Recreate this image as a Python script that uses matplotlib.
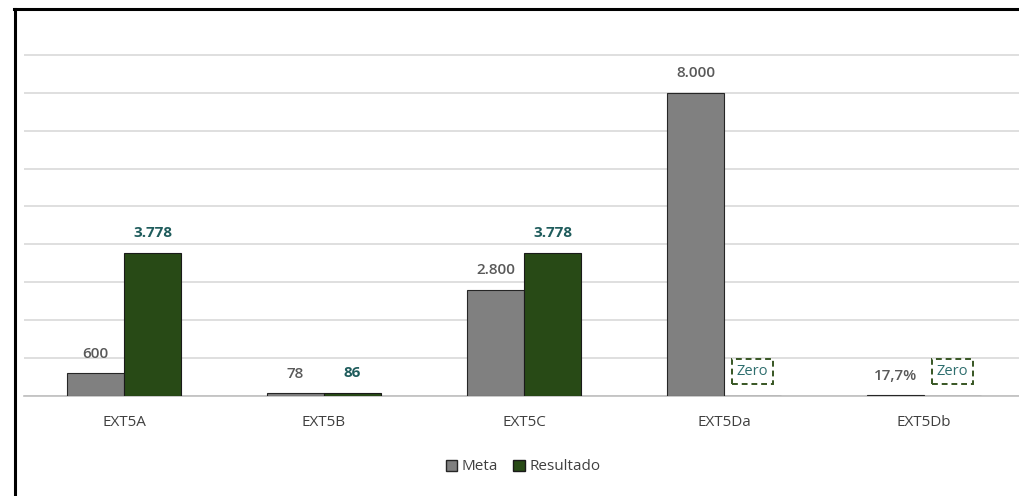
import matplotlib
matplotlib.use("Agg")
import matplotlib.pyplot as plt
from matplotlib.lines import Line2D
from matplotlib.patches import Patch
import numpy as np

categories = ['EXT5A', 'EXT5B', 'EXT5C', 'EXT5Da', 'EXT5Db']
meta = [600, 78, 2800, 8000, 17.7]
resultado = [3778, 86, 3778, 0, 0]
meta_labels = ['600', '78', '2.800', '8.000', '17,7%']
resultado_labels = ['3.778', '86', '3.778', 'Zero', 'Zero']

plt.rcParams['font.family'] = ['Open Sans', 'DejaVu Sans']

W, H = 1020, 496
fig = plt.figure(figsize=(W / 100, H / 100), dpi=100)
ax = fig.add_axes([24 / W, (H - 396) / H, 1000 / W, (396 - 17) / H])

x = np.arange(len(categories))
bw = 0.285
meta_color = '#808080'
res_color = '#284a16'
bars_m = ax.bar(x - bw / 2, meta, bw, color=meta_color, edgecolor='#262626', linewidth=0.8, label='Meta', zorder=3)
bars_r = ax.bar(x + bw / 2, resultado, bw, color=res_color, edgecolor='#1a1a1a', linewidth=0.8, label='Resultado', zorder=3)

ax.set_xlim(-0.5, len(categories) - 0.5)
ax.set_ylim(0, 10000)
ax.set_yticks(np.arange(0, 10000, 1000))
ax.yaxis.grid(True, color='#d9d9d9', linewidth=1.2, zorder=0)
ax.set_axisbelow(True)
ax.tick_params(axis='y', left=False, labelleft=False)
ax.tick_params(axis='x', bottom=False, pad=10, labelsize=11, labelcolor='#404040')
ax.set_xticks(x)
ax.set_xticklabels(categories)
for s in ['top', 'right', 'left']:
    ax.spines[s].set_visible(False)
ax.spines['bottom'].set_color('#bfbfbf')
ax.spines['bottom'].set_linewidth(1.2)

for b, lab in zip(bars_m, meta_labels):
    ax.annotate(lab, (b.get_x() + b.get_width() / 2, b.get_height()), xytext=(0, 14),
                textcoords='offset points', ha='center', va='center',
                fontsize=11, fontweight='semibold', color='#595959')

for b, lab, v in zip(bars_r, resultado_labels, resultado):
    cx = b.get_x() + b.get_width() / 2
    if v > 0:
        ax.annotate(lab, (cx, v), xytext=(0, 14), textcoords='offset points',
                    ha='center', va='center', fontsize=11, fontweight='bold', color='#1f5c5c')
    else:
        ax.annotate(lab, (cx, 0), xytext=(0, 17.5), textcoords='offset points',
                    ha='center', va='center', fontsize=10.5, color='#2e6e6e',
                    bbox=dict(boxstyle='square,pad=0.35', fc='white', ec='#375623',
                              ls=(0, (3, 2)), lw=1.4))

handles = [Patch(facecolor=meta_color, edgecolor='#262626', label='Meta'),
           Patch(facecolor=res_color, edgecolor='#1a1a1a', label='Resultado')]
fig.legend(handles=handles, loc='center', bbox_to_anchor=(523 / W, 1 - 467 / H), ncol=2,
           frameon=False, fontsize=11, handlelength=0.75, handleheight=0.75,
           handletextpad=0.3, columnspacing=1.0, labelcolor='#404040')

# outer frame (left and top only)
fig.add_artist(Line2D([15 / W, 15 / W], [0, 1 - 9 / H], transform=fig.transFigure, color='black', lw=2.2))
fig.add_artist(Line2D([14 / W, 1], [1 - 9 / H, 1 - 9 / H], transform=fig.transFigure, color='black', lw=2.2))

fig.savefig('out.png', dpi=100)
